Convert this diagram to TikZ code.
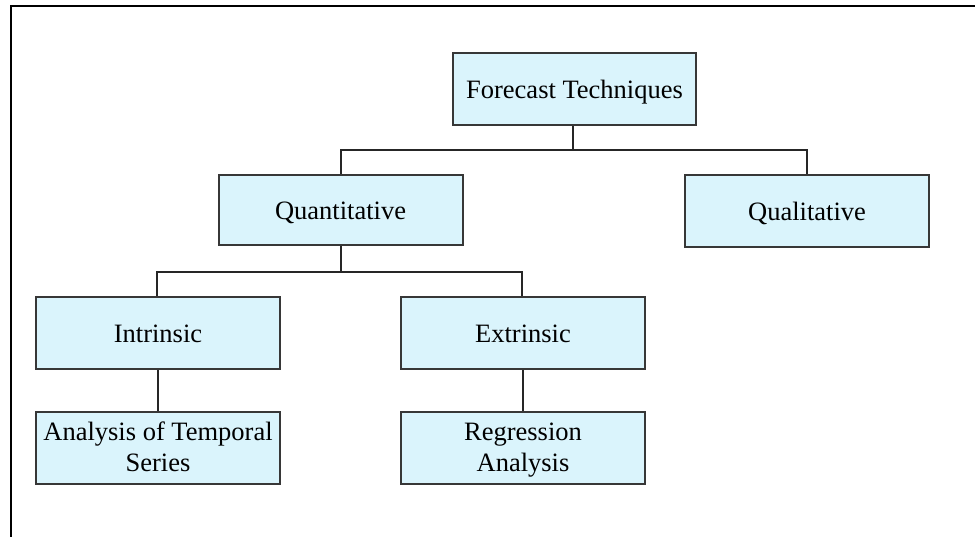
\documentclass[tikz,border=0pt]{standalone}
\usepackage{fontspec}
\setmainfont{Liberation Serif}
\definecolor{boxfill}{RGB}{218,244,252}
\definecolor{boxline}{RGB}{55,55,55}
\begin{document}
\begin{tikzpicture}[x=1pt,y=-1pt,
  box/.style={draw=boxline, line width=2pt, fill=boxfill, minimum width=244pt, minimum height=72pt,
    inner sep=1pt, align=center, font=\fontsize{26.5}{31}\selectfont},
  oneline/.style={text height=25pt, text depth=6pt},
  twoline/.style={text height=47pt, text depth=0pt},
  link/.style={draw=black!85, line width=1.8pt}]
\useasboundingbox (0,0) rectangle (975,536);
\draw[line width=2.6pt] (11,538) -- (11,6) -- (977,6);
\node[box, oneline, minimum width=243pt] (ft) at (574.5,89) {Forecast Techniques};
\node[box, oneline, minimum height=70pt] (qn) at (340.5,210) {Quantitative};
\node[box, oneline] (ql) at (807,211) {Qualitative};
\node[box, oneline] (in) at (158,333) {Intrinsic};
\node[box, oneline] (ex) at (523,333) {Extrinsic};
\node[box, twoline] (an) at (158,448) {Analysis of Temporal\\Series};
\node[box, twoline] (re) at (523,448) {Regression\\Analysis};
\coordinate (j1) at (573,150);
\coordinate (j2) at (341,272);
\draw[link] (ft.south -| j1) -- (j1);
\draw[link] (qn.north -| 341,0) |- (j1) -| (ql.north -| 807,0);
\draw[link] (qn.south -| j2) -- (j2);
\draw[link] (in.north -| 157,0) |- (j2) -| (ex.north -| 522,0);
\draw[link] (in) -- (an);
\draw[link] (ex) -- (re);
\end{tikzpicture}
\end{document}
